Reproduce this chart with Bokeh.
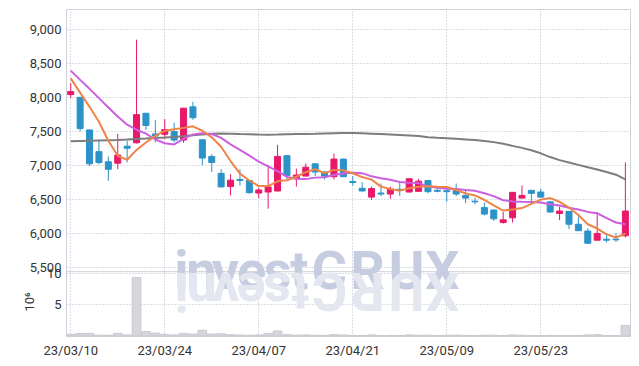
import math
from bokeh.plotting import figure
from bokeh.models import (ColumnDataSource, FixedTicker, Label, Range1d, Span,
                          CustomJSTickFormatter, Title)
from bokeh.embed import file_html
from bokeh.resources import INLINE

# ---------------- data ----------------
dates = ["23/03/10", "23/03/13", "23/03/14", "23/03/15", "23/03/16", "23/03/17",
         "23/03/20", "23/03/21", "23/03/22", "23/03/23", "23/03/24",
         "23/03/27", "23/03/28", "23/03/29", "23/03/30", "23/03/31",
         "23/04/03", "23/04/04", "23/04/05", "23/04/06", "23/04/07",
         "23/04/10", "23/04/11", "23/04/12", "23/04/13", "23/04/14",
         "23/04/17", "23/04/18", "23/04/19", "23/04/20", "23/04/21",
         "23/04/24", "23/04/25", "23/04/26", "23/04/27", "23/04/28",
         "23/05/02", "23/05/03", "23/05/04", "23/05/08", "23/05/09",
         "23/05/10", "23/05/11", "23/05/12",
         "23/05/15", "23/05/16", "23/05/17", "23/05/18", "23/05/19",
         "23/05/22", "23/05/23", "23/05/24", "23/05/25", "23/05/26",
         "23/05/30", "23/05/31", "23/06/01", "23/06/02", "23/06/05", "23/06/07"]

opens = [8040, 8000, 7520, 7200, 7050, 7030, 7280, 7330, 7765, 7460,
         7455, 7495, 7370, 7860, 7375, 7130, 6880, 6685, 6790, 6775,
         6590, 6605, 6620, 7140, 6800, 6840, 7020, 6900, 6830, 7090,
         6760, 6660, 6530, 6590, 6575, 6645, 6605, 6615, 6775, 6630,
         6625, 6630, 6555, 6470, 6375, 6340, 6155, 6225, 6515, 6630,
         6605, 6460, 6290, 6320, 6130, 6030, 5895, 5910, 5910, 5960]
highs = [8210, 8000, 7520, 7360, 7130, 7460, 7360, 8850, 7770, 7665,
         7680, 7625, 7845, 7935, 7380, 7160, 6940, 6865, 6940, 6780,
         6670, 7000, 7300, 7145, 6950, 7025, 7030, 6910, 7170, 7095,
         6840, 6750, 6685, 6730, 6685, 6750, 6805, 6800, 6780, 6685,
         6685, 6730, 6640, 6520, 6450, 6345, 6310, 6605, 6700, 6635,
         6655, 6465, 6390, 6325, 6240, 6070, 6310, 6000, 6000, 7040]
lows = [7990, 7500, 6990, 7010, 6770, 6940, 7040, 7320, 7520, 7335,
        7380, 7340, 7330, 7670, 7000, 6900, 6675, 6555, 6700, 6580,
        6515, 6360, 6615, 6790, 6685, 6835, 6840, 6790, 6790, 6825,
        6700, 6615, 6490, 6545, 6505, 6545, 6600, 6610, 6585, 6600,
        6460, 6545, 6440, 6425, 6260, 6180, 6140, 6155, 6510, 6425,
        6520, 6300, 6190, 6060, 6030, 5845, 5890, 5860, 5870, 5935]
closes = [8085, 7540, 7020, 7040, 6940, 7150, 7250, 7745, 7585, 7430,
          7525, 7370, 7840, 7700, 7105, 7040, 6680, 6780, 6775, 6595,
          6635, 6680, 7130, 6850, 6855, 6970, 6900, 6840, 7090, 6830,
          6745, 6620, 6655, 6575, 6645, 6630, 6800, 6765, 6610, 6615,
          6610, 6575, 6515, 6460, 6280, 6210, 6195, 6600, 6555, 6585,
          6530, 6310, 6325, 6130, 6035, 5850, 5995, 5895, 5900, 6325]

ma5 = [8280, 8070, 7860, 7640, 7360, 7138, 7080, 7225, 7334, 7432,
       7507, 7531, 7550, 7573, 7508, 7411, 7273, 7061, 6876, 6774,
       6693, 6693, 6763, 6778, 6830, 6897, 6941, 6883, 6931, 6926,
       6881, 6825, 6788, 6685, 6648, 6625, 6661, 6683, 6690, 6684,
       6680, 6635, 6585, 6555, 6488, 6408, 6332, 6349, 6368, 6429,
       6493, 6516, 6461, 6376, 6266, 6130, 6067, 5981, 5935, 5993]
ma10 = [8393, 8257, 8125, 7988, 7850, 7718, 7597, 7523, 7465, 7379,
        7323, 7306, 7388, 7454, 7470, 7459, 7402, 7306, 7225, 7141,
        7052, 6983, 6912, 6827, 6802, 6795, 6817, 6823, 6855, 6878,
        6889, 6883, 6836, 6808, 6787, 6753, 6743, 6736, 6688, 6666,
        6653, 6648, 6634, 6623, 6586, 6544, 6484, 6467, 6462, 6459,
        6451, 6424, 6405, 6372, 6348, 6312, 6292, 6221, 6156, 6130]
ma60 = [7352, 7356, 7360, 7364, 7368, 7372, 7378, 7385, 7392, 7400,
        7408, 7417, 7428, 7440, 7452, 7462, 7468, 7465, 7460, 7456,
        7452, 7450, 7452, 7455, 7458, 7460, 7463, 7467, 7471, 7474,
        7475, 7470, 7464, 7458, 7452, 7446, 7438, 7430, 7413, 7405,
        7398, 7390, 7380, 7370, 7358, 7340, 7315, 7285, 7255, 7220,
        7175, 7120, 7075, 7040, 7005, 6970, 6937, 6900, 6860, 6790]

volume_m = [0.25, 0.4, 0.4, 0.12, 0.1, 0.4, 0.15, 9.4, 0.7, 0.45,
            0.25, 0.15, 0.4, 0.3, 0.9, 0.3, 0.35, 0.2, 0.15, 0.1,
            0.15, 0.4, 0.8, 0.2, 0.12, 0.15, 0.1, 0.08, 0.2, 0.15,
            0.08, 0.05, 0.15, 0.05, 0.08, 0.05, 0.15, 0.1, 0.12, 0.05,
            0.1, 0.12, 0.08, 0.05, 0.1, 0.12, 0.05, 0.15, 0.1, 0.05,
            0.05, 0.08, 0.05, 0.05, 0.06, 0.15, 0.2, 0.05, 0.05, 1.7]

price_ticks = [5500, 6000, 6500, 7000, 7500, 8000, 8500, 9000]
vol_ticks = [5, 10]
date_tick_idx = [0, 10, 20, 30, 40, 50]

# ---------------- geometry / style ----------------
UP = "#e8196a"
DOWN = "#2c93c9"
GRID = "#b9bdcc"
FONT = "Roboto"
W, H = 631, 360
LEFT, TOP, BOTTOM = 66, 9, 23
FRAME_H = H - TOP - BOTTOM            # 328
SPLIT_PX = 263                        # price panel height inside frame
XR = (-0.45, 59.65)
P_TOP, P_SPLIT = 9294.0, 5431.0       # price shown in the upper panel
V_TOP, V_BOT = 10.36, -0.1            # volume shown in the lower panel

p_per_px = (P_TOP - P_SPLIT) / SPLIT_PX
p_bot = P_SPLIT - (FRAME_H - SPLIT_PX) * p_per_px
v_per_px = (V_TOP - V_BOT) / (FRAME_H - SPLIT_PX)
v_top_full = V_BOT + FRAME_H * v_per_px
k = p_per_px / v_per_px               # price units per volume unit
px_per_idx = (W - LEFT) / (XR[1] - XR[0])


def vol_to_price(v):
    return p_bot + (v - V_BOT) * k


def px_x(px):          # page x pixel -> index coordinate
    return XR[0] + (px - LEFT) / px_per_idx


def px_y(py):          # page y pixel -> price coordinate
    return P_TOP - (py - TOP) * p_per_px


idx = list(range(len(dates)))
up = [c >= o for o, c in zip(opens, closes)]


def src(flag):
    rows = [i for i in idx if up[i] == flag]
    return ColumnDataSource(dict(
        x=rows,
        top=[max(opens[i], closes[i]) for i in rows],
        bottom=[min(opens[i], closes[i]) for i in rows],
        high=[highs[i] for i in rows],
        low=[lows[i] for i in rows],
    ))


p = figure(width=W, height=H, x_range=Range1d(*XR), y_range=Range1d(p_bot, P_TOP),
           output_backend="svg", toolbar_location=None,
           min_border_left=LEFT, min_border_right=0, min_border_top=TOP,
           min_border_bottom=BOTTOM)
p.extra_y_ranges = {"vol": Range1d(V_BOT, v_top_full)}
p.outline_line_color = "#cfd0d8"
p.background_fill_color = "white"
p.border_fill_color = "white"

# axes
yticks = [vol_to_price(v) for v in vol_ticks] + price_ticks
p.yaxis.ticker = FixedTicker(ticks=yticks)
p.yaxis.formatter = CustomJSTickFormatter(
    args=dict(split=P_SPLIT, p0=vol_to_price(0), k=k),
    code="""
    if (tick < split) { return String(Math.round((tick - p0) / k)); }
    return Math.round(tick).toLocaleString('en-US');
    """)
p.xaxis.ticker = FixedTicker(ticks=date_tick_idx)
p.xaxis.major_label_overrides = {i: dates[i] for i in date_tick_idx}
for ax in (p.xaxis[0], p.yaxis[0]):
    ax.axis_line_color = None
    ax.major_tick_line_color = None
    ax.minor_tick_line_color = None
    ax.major_tick_out = 0
    ax.major_tick_in = 0
    ax.major_label_text_font = FONT
    ax.major_label_text_font_size = "13px"
    ax.major_label_text_color = "#333333"
p.yaxis.major_label_standoff = 5
p.xaxis.major_label_standoff = 6

# volume unit label: a vertical title on the left, placed beside the volume panel
p.add_layout(Title(text="10\u2076", align="left", offset=25, standoff=-21,
                   text_font=FONT, text_font_style="normal", text_font_size="13px",
                   text_color="#333333"), "left")

p.xgrid.grid_line_color = GRID
p.xgrid.grid_line_dash = "1 2"
p.ygrid.grid_line_color = GRID
p.ygrid.grid_line_dash = "1 2"

# panel separator
p.add_layout(Span(location=P_SPLIT, dimension="width", line_color="#cfd0d8", line_width=1))

# ---------------- watermark ----------------
wm_text = "investCRUX"
wm_centers_px = [181, 201, 225, 251, 277, 299, 329, 367, 406, 442]
wm_size = 54
for ch, cpx in zip(wm_text, wm_centers_px):
    cx = px_x(cpx)
    p.add_layout(Label(x=cx, y=px_y(270.5), text=ch, text_font=FONT,
                       text_font_style="bold", text_font_size=f"{wm_size}px",
                       text_color="#c6cde1", text_align="center",
                       text_baseline="alphabetic"))
    p.add_layout(Label(x=cx, y=px_y(292), text=ch, text_font=FONT,
                       text_font_style="bold", text_font_size=f"{wm_size}px",
                       text_color="#e4e7f0", text_align="center",
                       text_baseline="middle", angle=math.pi))

# ---------------- volume ----------------
p.vbar(x=idx, top=volume_m, bottom=0, width=0.92, y_range_name="vol",
       fill_color="#d6d6dc", line_color="#c9c9d1")

# ---------------- candles ----------------
for flag, col in ((True, UP), (False, DOWN)):
    s = src(flag)
    p.segment(x0="x", y0="low", x1="x", y1="high", source=s, line_color=col, line_width=1)
    p.vbar(x="x", top="top", bottom="bottom", width=0.64, source=s,
           fill_color=col, line_color=col, line_width=1)

p.line(idx, ma60, line_color="#7d7d7d", line_width=2)
p.line(idx, ma10, line_color="#cc5fe0", line_width=2)
p.line(idx, ma5, line_color="#ee8447", line_width=2)

open("out.html", "w").write(file_html(p, INLINE))
